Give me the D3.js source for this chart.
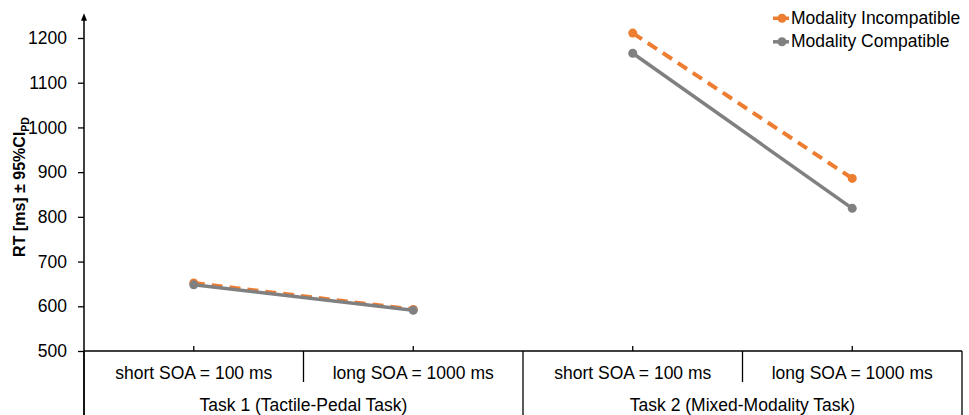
<!DOCTYPE html>
<html>
<head>
<meta charset="utf-8">
<script src="https://cdn.jsdelivr.net/npm/d3@7.9.0/dist/d3.min.js"></script>
<style>
  html, body { margin: 0; padding: 0; background: #fff; }
  svg { display: block; font-family: "Liberation Sans", Arial, Helvetica, sans-serif; }
</style>
</head>
<body>
<svg id="chart" width="969" height="415"></svg>
<script>
// --- data ---
const categories = ["T1 short", "T1 long", "T2 short", "T2 long"];
const subLabels = ["short SOA = 100 ms", "long SOA = 1000 ms", "short SOA = 100 ms", "long SOA = 1000 ms"];
const groups = ["Task 1 (Tactile-Pedal Task)", "Task 2 (Mixed-Modality Task)"];
const incompatible = [652, 593, 1211, 886];
const compatible = [648, 591, 1166, 819];
const yTicks = [500, 600, 700, 800, 900, 1000, 1100, 1200];

const series = [
  { name: "Modality Incompatible", values: incompatible, color: "#ED7D31", dash: "11,7", width: 4 },
  { name: "Modality Compatible", values: compatible, color: "#808080", dash: null, width: 3.5 }
];

const W = 969, H = 415;
const plot = { left: 84, right: 962, top: 38, bottom: 351 };
const fs = "17.5px";

const svg = d3.select("#chart");

const x = d3.scaleBand().domain(categories).range([plot.left, plot.right]).padding(0);
const xg = d3.scaleBand().domain(groups).range([plot.left, plot.right]).padding(0);
const y = d3.scaleLinear().domain([500, 1200]).range([plot.bottom, plot.top]);
const cx = (i) => x(categories[i]) + x.bandwidth() / 2;

// --- y axis ---
const yAxis = svg.append("g")
  .attr("transform", `translate(${plot.left},0)`)
  .call(d3.axisLeft(y).tickValues(yTicks).tickFormat(d3.format("d")).tickSize(6).tickPadding(11));
yAxis.select(".domain").remove();
yAxis.selectAll("line").attr("stroke", "#000").attr("stroke-width", 1.3);
yAxis.selectAll("text").attr("font-size", fs).attr("fill", "#000")
  .attr("font-family", "Liberation Sans, Arial, sans-serif");

svg.append("defs").append("marker")
  .attr("id", "arrow")
  .attr("viewBox", "0 0 10 10")
  .attr("refX", 5).attr("refY", 5)
  .attr("markerWidth", 5).attr("markerHeight", 6)
  .attr("orient", "auto")
  .append("path").attr("d", "M0,1 L10,5 L0,9 Z").attr("fill", "#000");

svg.append("line")
  .attr("x1", plot.left).attr("x2", plot.left)
  .attr("y1", H).attr("y2", 17)
  .attr("stroke", "#000").attr("stroke-width", 1.5)
  .attr("marker-end", "url(#arrow)");

// y label
svg.append("text")
  .attr("transform", "translate(25,187) rotate(-90)")
  .attr("text-anchor", "middle")
  .attr("font-size", "16px")
  .attr("font-weight", "bold")
  .text("RT [ms] ± 95%CI")
  .append("tspan")
  .attr("font-size", "10.5px")
  .attr("dy", 4)
  .text("PD");

// --- x axis with grouped labels ---
svg.append("line")
  .attr("x1", plot.left).attr("x2", plot.right)
  .attr("y1", plot.bottom).attr("y2", plot.bottom)
  .attr("stroke", "#000").attr("stroke-width", 1.5);

// small ticks at category centres
svg.append("g").selectAll("line")
  .data(categories)
  .join("line")
  .attr("x1", (d, i) => cx(i))
  .attr("x2", (d, i) => cx(i))
  .attr("y1", plot.bottom - 5).attr("y2", plot.bottom)
  .attr("stroke", "#000").attr("stroke-width", 1.3);

// separators between categories within a group
svg.append("g").selectAll("line")
  .data(categories.filter((d, i) => i % 2 === 1))
  .join("line")
  .attr("x1", d => x(d)).attr("x2", d => x(d))
  .attr("y1", plot.bottom).attr("y2", 382)
  .attr("stroke", "#000").attr("stroke-width", 1.3);

// separators between groups (full height)
svg.append("g").selectAll("line")
  .data(groups.concat(["end"]))
  .join("line")
  .attr("x1", d => d === "end" ? plot.right : xg(d))
  .attr("x2", d => d === "end" ? plot.right : xg(d))
  .attr("y1", plot.bottom).attr("y2", H)
  .attr("stroke", "#000").attr("stroke-width", 1.3);

svg.append("g").selectAll("text")
  .data(categories)
  .join("text")
  .attr("x", (d, i) => cx(i))
  .attr("y", 379)
  .attr("text-anchor", "middle")
  .attr("font-size", fs)
  .text((d, i) => subLabels[i]);

svg.append("g").selectAll("text")
  .data(groups)
  .join("text")
  .attr("x", d => xg(d) + xg.bandwidth() / 2)
  .attr("y", 411)
  .attr("text-anchor", "middle")
  .attr("font-size", fs)
  .text(d => d);

// --- lines and markers (one segment per task) ---
series.forEach(s => {
  const g = svg.append("g");
  [[0, 2], [2, 4]].forEach(([a, b]) => {
    g.append("path")
      .attr("d", d3.line()
        .x((d, i) => cx(a + i))
        .y(d => y(d))(s.values.slice(a, b)))
      .attr("fill", "none")
      .attr("stroke", s.color)
      .attr("stroke-width", s.width)
      .attr("stroke-dasharray", s.dash);
  });
  g.selectAll("circle")
    .data(s.values)
    .join("circle")
    .attr("cx", (d, i) => cx(i))
    .attr("cy", d => y(d))
    .attr("r", 4.5)
    .attr("fill", s.color);
});

// --- legend ---
const legend = svg.append("g");
series.forEach((s, i) => {
  const ly = 18.3 + i * 23.5;
  legend.append("line")
    .attr("x1", 773).attr("x2", 789)
    .attr("y1", ly).attr("y2", ly)
    .attr("stroke", s.color).attr("stroke-width", 3.5);
  legend.append("circle")
    .attr("cx", 782).attr("cy", ly).attr("r", 4.5)
    .attr("fill", s.color);
  legend.append("text")
    .attr("x", 791).attr("y", ly + 5.5)
    .attr("font-size", fs)
    .text(s.name);
});
</script>
</body>
</html>
